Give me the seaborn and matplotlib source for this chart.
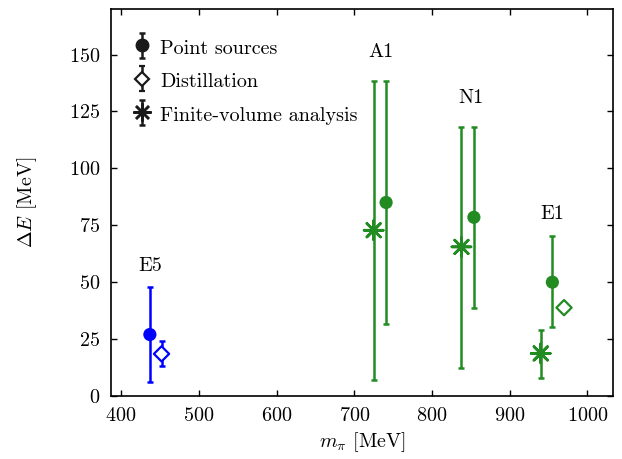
import numpy as np
import pandas as pd
import seaborn as sns
import matplotlib.pyplot as plt
from matplotlib.container import ErrorbarContainer
from matplotlib.legend_handler import HandlerErrorbar

# data
colors = {'E5': '#0000ff', 'A1': '#228b22', 'N1': '#228b22', 'E1': '#228b22'}

# point sources
ps_ens = ['E5', 'A1', 'N1', 'E1']
ps_mpi = [437, 741, 854, 955]
ps_dE = [27.0, 85.0, 78.5, 50.0]
ps_lo = [6.0, 31.5, 38.7, 30.4]
ps_hi = [48.0, 138.5, 118.3, 70.3]

# distillation
di_ens = ['E5', 'E1']
di_mpi = [452, 970]
di_dE = [18.5, 38.8]
di_lo = [13.2, 38.8]
di_hi = [24.3, 38.8]

# finite-volume analysis
fv_ens = ['A1', 'N1', 'E1']
fv_mpi = [725, 838, 940]
fv_dE = [72.8, 65.5, 18.7]
fv_lo = [7.0, 12.1, 8.0]
fv_hi = [138.5, 118.3, 28.9]

# ensemble label positions
lab_text = ['E5', 'A1', 'N1', 'E1']
lab_x = [437, 735, 850, 955]
lab_y = [57, 151, 131, 80]

FS = 14.5

sns.set_theme(style='ticks', rc={'text.color': 'black', 'axes.labelcolor': 'black',
                                 'xtick.color': 'black', 'ytick.color': 'black',
                                 'axes.edgecolor': 'black'})
plt.rcParams['font.family'] = 'serif'
plt.rcParams['font.serif'] = ['cmr10']
plt.rcParams['mathtext.fontset'] = 'cm'
plt.rcParams['axes.formatter.use_mathtext'] = True
plt.rcParams['axes.unicode_minus'] = False

fig = plt.figure(figsize=(6.22, 4.59), dpi=100)
ax = fig.add_axes([0.1785, 0.1373, 0.8070, 0.8431])

ps = pd.DataFrame({'ens': ps_ens, 'x': ps_mpi, 'y': ps_dE, 'lo': ps_lo, 'hi': ps_hi})
di = pd.DataFrame({'ens': di_ens, 'x': di_mpi, 'y': di_dE, 'lo': di_lo, 'hi': di_hi})
fv = pd.DataFrame({'ens': fv_ens, 'x': fv_mpi, 'y': fv_dE, 'lo': fv_lo, 'hi': fv_hi})

ebkw = dict(elinewidth=1.8, capsize=2.2, capthick=1.8, fmt='none', zorder=2)
for df in (ps, di, fv):
    for _, r in df.iterrows():
        if r['hi'] > r['lo']:
            ax.errorbar(r['x'], r['y'], yerr=[[r['y'] - r['lo']], [r['hi'] - r['y']]],
                        ecolor=colors[r['ens']], **ebkw)

sns.scatterplot(data=ps, x='x', y='y', hue='ens', palette=colors, marker='o',
                s=90, edgecolor='none', legend=False, ax=ax, zorder=3)
sns.scatterplot(data=di, x='x', y='y', hue='ens', palette=colors, marker='D',
                s=60, legend=False, ax=ax, zorder=3)
# open diamonds: edge coloured by ensemble
dic = ax.collections[-1]
dic.set_edgecolors(dic.get_facecolors())
dic.set_facecolors('white')
dic.set_linewidth(1.6)
sns.scatterplot(data=fv, x='x', y='y', hue='ens', palette=colors, marker=(8, 2, 0),
                s=190, linewidth=1.9, legend=False, ax=ax, zorder=3)
fvc = ax.collections[-1]
fvc.set_edgecolors(fvc.get_facecolors())

for t, x, y in zip(lab_text, lab_x, lab_y):
    ax.text(x, y, t, ha='center', va='center', fontsize=FS)

# legend handles (black)
nan = [np.nan]
lkw = dict(color='k', elinewidth=1.8, capsize=2.2, capthick=1.8, linestyle='none')
ax.errorbar(nan, nan, yerr=[nan, nan], fmt='', marker='o', ms=9,
            label='Point sources', **lkw)
ax.errorbar(nan, nan, yerr=[nan, nan], fmt='', marker='D', mfc='white', mew=1.6, ms=7,
            label='Distillation', **lkw)
ax.errorbar(nan, nan, yerr=[nan, nan], fmt='', marker=(8, 2, 0), ms=13, mew=1.8,
            label='Finite-volume analysis', **lkw)
ax.legend(loc='upper left', frameon=False, fontsize=FS, handlelength=0.9,
          handleheight=1.2, handletextpad=0.45, labelspacing=0.62, borderaxespad=0.4,
          borderpad=0.3, bbox_to_anchor=(0.016, 0.965),
          handler_map={ErrorbarContainer: HandlerErrorbar(xerr_size=0.4, yerr_size=0.62)})

ax.set_xlim(387, 1033)
ax.set_ylim(0, 170)
ax.set_xticks(range(400, 1001, 100))
ax.set_yticks(range(0, 151, 25))
ax.tick_params(direction='in', top=True, right=True, length=4.5, width=1,
               labelsize=FS, pad=8)
for s in ax.spines.values():
    s.set_linewidth(1.2)
ax.set_xlabel(r'$m_\pi$ [MeV]', fontsize=FS, labelpad=4)
ax.set_ylabel(r'$\Delta E$ [MeV]', fontsize=FS, labelpad=21)

fig.savefig('out.png', dpi=100)
